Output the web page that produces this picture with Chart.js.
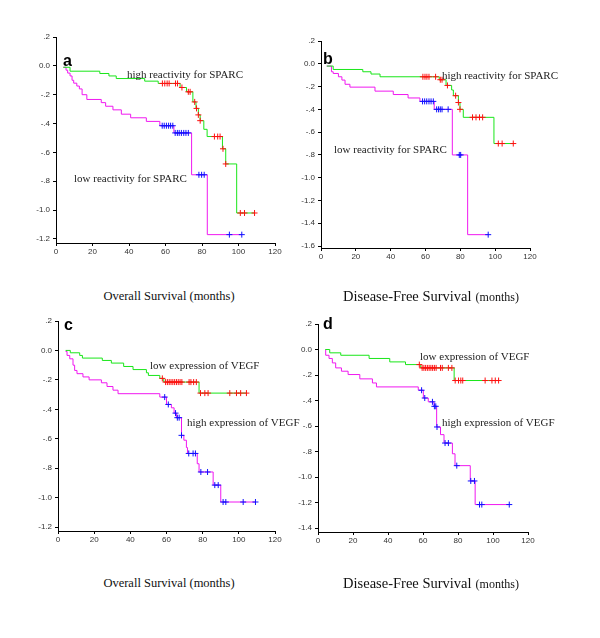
<!DOCTYPE html>
<html>
<head>
<meta charset="utf-8">
<script src="https://cdn.jsdelivr.net/npm/chart.js@4.4.1/dist/chart.umd.min.js"></script>
<style>
  html, body { margin: 0; padding: 0; background: #fff; }
  #wrap { position: relative; width: 600px; height: 638px; overflow: hidden; background: #fff; }
  canvas { position: absolute; }
  .ann { position: absolute; font-family: "Liberation Serif", "Times New Roman", serif; font-size: 11px; line-height: 11px; color: #222; white-space: nowrap; transform: translateY(-50%); }
  .lab { position: absolute; font-family: "Liberation Sans", Arial, sans-serif; font-weight: bold; font-size: 16px; line-height: 16px; color: #000; transform: translateY(-50%); }
  .xt { position: absolute; font-family: "Liberation Serif", "Times New Roman", serif; color: #111; white-space: nowrap; transform: translate(-50%, -50%); }
</style>
</head>
<body>
<div id="wrap">
  <canvas id="ca"></canvas>
  <canvas id="cb"></canvas>
  <canvas id="cc"></canvas>
  <canvas id="cd"></canvas>

  <div class="lab" style="left:63px; top:61px;">a</div>
  <div class="lab" style="left:323px; top:59px;">b</div>
  <div class="lab" style="left:64px; top:325px;">c</div>
  <div class="lab" style="left:323px; top:324px;">d</div>

  <div class="ann" style="left:127px; top:74px;">high reactivity for SPARC</div>
  <div class="ann" style="left:74px; top:178px;">low reactivity for SPARC</div>
  <div class="ann" style="left:442px; top:75px;">high reactivity for SPARC</div>
  <div class="ann" style="left:334px; top:149px;">low reactivity for SPARC</div>
  <div class="ann" style="left:150px; top:365px;">low expression of VEGF</div>
  <div class="ann" style="left:187px; top:422px;">high expression of VEGF</div>
  <div class="ann" style="left:420px; top:356px;">low expression of VEGF</div>
  <div class="ann" style="left:442px; top:422px;">high expression of VEGF</div>

  <div class="xt" style="left:169px; top:296px; font-size:12.5px;">Overall Survival (months)</div>
  <div class="xt" style="left:431px; top:296px;"><span style="font-size:14.5px;">Disease-Free Survival</span> <span style="font-size:12px;">(months)</span></div>
  <div class="xt" style="left:169px; top:583px; font-size:12.5px;">Overall Survival (months)</div>
  <div class="xt" style="left:431px; top:583px;"><span style="font-size:14.5px;">Disease-Free Survival</span> <span style="font-size:12px;">(months)</span></div>
</div>
<script>
// ---------- DATA ----------
const xTicks = [0, 20, 40, 60, 80, 100, 120];
const yTicksA = [0.2, 0, -0.2, -0.4, -0.6, -0.8, -1.0, -1.2];
const yTicksB = [0.2, 0, -0.2, -0.4, -0.6, -0.8, -1.0, -1.2, -1.4, -1.6];
const yTicksC = [0.2, 0, -0.2, -0.4, -0.6, -0.8, -1.0, -1.2];
const yTicksD = [0.2, 0, -0.2, -0.4, -0.6, -0.8, -1.0, -1.2, -1.4];

// Panel a: SPARC, overall survival
const aHighT = [4, 7.7, 24, 29, 33, 48.6, 56, 68, 71.5, 75, 76.7, 78, 79, 81, 82.8, 91.2, 93, 99, 108.8];
const aHighS = [-0.01, -0.037, -0.053, -0.07, -0.088, -0.106, -0.122, -0.15, -0.18, -0.25, -0.295, -0.34, -0.38, -0.44, -0.49, -0.575, -0.68, -1.02, -1.02];
const aHighCensT = [58.3, 59.6, 60.9, 62, 65.5, 66.6, 69, 72.5, 73.5, 76, 77, 78, 79, 86.8, 88.6, 89.9, 91.5, 93, 101, 103.3, 108.8];
const aHighCensS = [-0.122, -0.122, -0.122, -0.122, -0.122, -0.122, -0.15, -0.18, -0.18, -0.25, -0.295, -0.34, -0.38, -0.49, -0.49, -0.49, -0.575, -0.68, -1.02, -1.02, -1.02];
const aLowT = [4, 5.5, 6.4, 7.7, 8.8, 9.7, 11.4, 12.8, 14.3, 16.9, 24.8, 27.2, 31.2, 35.8, 40.9, 49.5, 56.9, 64.6, 74.3, 82.9, 101.8];
const aLowS = [-0.01, -0.03, -0.05, -0.07, -0.1, -0.12, -0.14, -0.16, -0.2, -0.233, -0.255, -0.28, -0.305, -0.335, -0.36, -0.385, -0.415, -0.465, -0.755, -1.17, -1.17];
const aLowCensT = [58.2, 59.3, 60.5, 61.7, 62.8, 64, 65.3, 66.5, 67.5, 68.7, 70, 71.2, 72.5, 78.3, 79.8, 81.2, 95, 101.8];
const aLowCensS = [-0.415, -0.415, -0.415, -0.415, -0.415, -0.415, -0.465, -0.465, -0.465, -0.465, -0.465, -0.465, -0.465, -0.755, -0.755, -0.755, -1.17, -1.17];

// Panel b: SPARC, disease-free survival
const bHighT = [3.3, 7, 24, 28.7, 33.9, 67.9, 71.8, 75, 76, 78.9, 79.8, 81.7, 99.3, 110.4];
const bHighS = [-0.02, -0.05, -0.07, -0.09, -0.114, -0.14, -0.19, -0.23, -0.28, -0.34, -0.40, -0.47, -0.70, -0.70];
const bHighCensT = [58.5, 59.7, 60.8, 62, 65.8, 68.5, 69.5, 72.6, 77.3, 78.9, 79.8, 87, 89, 91, 92.8, 101.8, 104, 110.4];
const bHighCensS = [-0.114, -0.114, -0.114, -0.114, -0.114, -0.14, -0.14, -0.19, -0.28, -0.34, -0.40, -0.47, -0.47, -0.47, -0.47, -0.70, -0.70, -0.70];
const bLowT = [3.3, 6, 7, 10, 12, 13.8, 16.6, 31, 41.5, 50, 56.8, 65, 75.4, 84.2, 96];
const bLowS = [-0.02, -0.07, -0.085, -0.114, -0.143, -0.18, -0.205, -0.24, -0.27, -0.30, -0.33, -0.40, -0.80, -1.50, -1.50];
const bLowCensT = [58.3, 59.5, 60.7, 62, 63.2, 64.5, 66.4, 67.5, 68.5, 69.5, 73, 79.4, 80.2, 96];
const bLowCensS = [-0.33, -0.33, -0.33, -0.33, -0.33, -0.33, -0.40, -0.40, -0.40, -0.40, -0.40, -0.80, -0.80, -1.50];

// Panel c: VEGF, overall survival
const cLowT = [4.2, 6.8, 12, 13.5, 24.5, 29.5, 36.3, 41.5, 48.9, 50, 56.3, 58.5, 78, 104.2];
const cLowS = [0, -0.016, -0.034, -0.052, -0.068, -0.086, -0.109, -0.13, -0.152, -0.17, -0.19, -0.215, -0.29, -0.29];
const cLowCensT = [57.7, 59.5, 60.5, 61.5, 62.5, 63.5, 64.5, 65.5, 66.5, 67.5, 68.5, 72.5, 73.5, 75, 76.5, 78.8, 81.2, 83, 95, 98.7, 101, 104.2];
const cLowCensS = [-0.19, -0.215, -0.215, -0.215, -0.215, -0.215, -0.215, -0.215, -0.215, -0.215, -0.215, -0.215, -0.215, -0.215, -0.215, -0.29, -0.29, -0.29, -0.29, -0.29, -0.29, -0.29];
const cHighT = [4.2, 5, 6.5, 8.3, 9.2, 10.5, 13.8, 17.2, 24, 27.1, 30.4, 33.2, 56.3, 60, 62.7, 64.2, 65.5, 68.3, 69.6, 71, 71.6, 77, 78, 85.8, 90, 109.2];
const cHighS = [-0.007, -0.034, -0.057, -0.10, -0.136, -0.158, -0.18, -0.20, -0.22, -0.245, -0.27, -0.294, -0.317, -0.367, -0.39, -0.426, -0.457, -0.577, -0.61, -0.66, -0.70, -0.77, -0.826, -0.915, -1.03, -1.03];
const cHighCensT = [59, 61, 65, 66, 67, 68.3, 72.3, 74.7, 76, 79, 82.7, 86.7, 88.6, 91.3, 92.8, 102.4, 109.2];
const cHighCensS = [-0.317, -0.367, -0.426, -0.457, -0.457, -0.577, -0.70, -0.70, -0.70, -0.826, -0.826, -0.915, -0.915, -1.03, -1.03, -1.03, -1.03];

// Panel d: VEGF, disease-free survival
const dLowT = [4.2, 6.7, 13, 29.2, 41, 50, 58.7, 77.8, 103.2];
const dLowS = [0, -0.026, -0.045, -0.07, -0.097, -0.118, -0.144, -0.243, -0.243];
const dLowCensT = [57.9, 59.5, 60.5, 61.5, 62.5, 63.5, 64.5, 65.5, 66.5, 67.5, 70, 71, 74.5, 76.5, 78.4, 80.3, 81.6, 82.7, 95.5, 99.4, 101.3, 103.2];
const dLowCensS = [-0.118, -0.144, -0.144, -0.144, -0.144, -0.144, -0.144, -0.144, -0.144, -0.144, -0.144, -0.144, -0.144, -0.144, -0.243, -0.243, -0.243, -0.243, -0.243, -0.243, -0.243, -0.243];
const dHighT = [4.2, 4.4, 6.3, 8.2, 10.1, 13.4, 17.2, 23.9, 31.1, 33.4, 57.3, 60.2, 63, 66.3, 67.8, 70, 72, 76.8, 78.3, 87, 89.8, 109.3];
const dHighS = [0, -0.045, -0.07, -0.105, -0.144, -0.17, -0.196, -0.23, -0.262, -0.293, -0.319, -0.38, -0.41, -0.445, -0.607, -0.667, -0.733, -0.817, -0.91, -1.03, -1.215, -1.215];
const dHighCensT = [59.2, 61, 65.4, 66.5, 67.3, 68, 72.6, 74.5, 79.3, 87.3, 89.4, 92.3, 93.6, 109.3];
const dHighCensS = [-0.319, -0.38, -0.41, -0.445, -0.445, -0.607, -0.733, -0.733, -0.91, -1.03, -1.03, -1.215, -1.215, -1.215];

// ---------- STYLE / LAYOUT ----------
const GREEN = '#19e619';
const MAGENTA = '#f018f0';
const RED = '#ff1010';
const BLUE = '#1010ff';
const ML = 40, MB = 26, MT = 8, MR = 16;

function pts(T, S) { return T.map((t, i) => ({ x: t, y: S[i] })); }
function fmtY(v) {
  if (Math.abs(v) < 1e-9) return '0.0';
  const a = Math.abs(v);
  let s = a.toFixed(1);
  if (a < 1) s = s.replace(/^0/, '');
  return (v < 0 ? '-' : '') + s;
}

function makePanel(id, rect, ymin, yTicks, curves) {
  const cv = document.getElementById(id);
  const W = rect.w + ML + MR, H = rect.h + MT + MB;
  cv.width = W; cv.height = H;
  cv.style.width = W + 'px'; cv.style.height = H + 'px';
  cv.style.left = (rect.x - ML) + 'px';
  cv.style.top = (rect.y - MT) + 'px';
  const datasets = [];
  curves.forEach(c => {
    datasets.push({
      data: pts(c.T, c.S), showLine: true, stepped: true,
      borderColor: c.line, borderWidth: 1, pointRadius: 0, fill: false, order: 2
    });
  });
  curves.forEach(c => {
    datasets.push({
      data: pts(c.CT, c.CS), showLine: false, pointStyle: 'cross',
      pointRadius: 3, pointBorderColor: c.cens, borderColor: c.cens, pointBorderWidth: 1, order: 1
    });
  });
  new Chart(cv, {
    type: 'scatter',
    data: { datasets },
    options: {
      responsive: false, animation: false, devicePixelRatio: 1,
      layout: { padding: { left: 0, top: MT, right: MR, bottom: 0 } },
      plugins: { legend: { display: false }, tooltip: { enabled: false } },
      scales: {
        x: {
          type: 'linear', min: 0, max: 120,
          afterBuildTicks: s => { s.ticks = xTicks.map(v => ({ value: v })); },
          ticks: { font: { family: 'Liberation Sans', size: 8 }, color: '#333', padding: 1, maxRotation: 0 },
          grid: { display: true, drawOnChartArea: false, drawTicks: true, tickLength: 3, color: '#000' },
          border: { display: true, color: '#000', width: 1 },
          afterFit: s => { s.height = MB; s.paddingLeft = 0; s.paddingRight = 0; }
        },
        y: {
          type: 'linear', min: ymin, max: 0.2,
          afterBuildTicks: s => { s.ticks = yTicks.map(v => ({ value: v })); },
          ticks: { font: { family: 'Liberation Sans', size: 8 }, color: '#333', padding: 3, callback: v => fmtY(v) },
          grid: { display: true, drawOnChartArea: false, drawTicks: true, tickLength: 3, color: '#000' },
          border: { display: true, color: '#000', width: 1 },
          afterFit: s => { s.width = ML; s.paddingTop = 0; s.paddingBottom = 0; }
        }
      }
    }
  });
}

makePanel('ca', { x: 56, y: 37, w: 219, h: 206 }, -1.228, yTicksA, [
  { T: aHighT, S: aHighS, CT: aHighCensT, CS: aHighCensS, line: GREEN, cens: RED },
  { T: aLowT, S: aLowS, CT: aLowCensT, CS: aLowCensS, line: MAGENTA, cens: BLUE }
]);
makePanel('cb', { x: 321, y: 41, w: 209, h: 207 }, -1.617, yTicksB, [
  { T: bHighT, S: bHighS, CT: bHighCensT, CS: bHighCensS, line: GREEN, cens: RED },
  { T: bLowT, S: bLowS, CT: bLowCensT, CS: bLowCensS, line: MAGENTA, cens: BLUE }
]);
makePanel('cc', { x: 58, y: 321, w: 217, h: 210 }, -1.227, yTicksC, [
  { T: cLowT, S: cLowS, CT: cLowCensT, CS: cLowCensS, line: GREEN, cens: RED },
  { T: cHighT, S: cHighS, CT: cHighCensT, CS: cHighCensS, line: MAGENTA, cens: BLUE }
]);
makePanel('cd', { x: 318, y: 324, w: 210, h: 208 }, -1.43, yTicksD, [
  { T: dLowT, S: dLowS, CT: dLowCensT, CS: dLowCensS, line: GREEN, cens: RED },
  { T: dHighT, S: dHighS, CT: dHighCensT, CS: dHighCensS, line: MAGENTA, cens: BLUE }
]);
</script>
</body>
</html>
